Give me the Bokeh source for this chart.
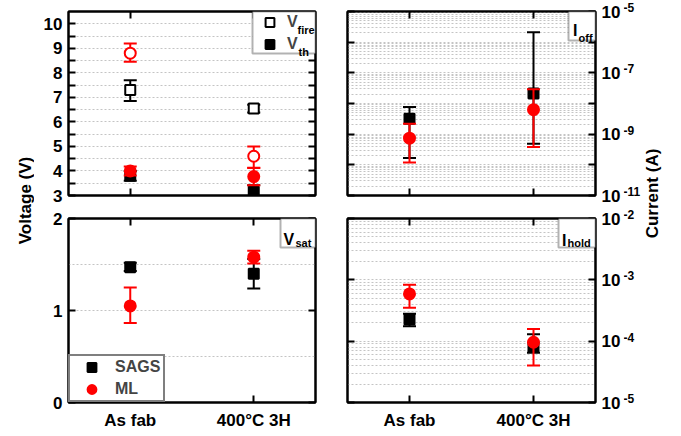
import math
from bokeh.plotting import figure
from bokeh.models import (FactorRange, Range1d, CategoricalAxis, LinearAxis, LogAxis, FixedTicker,
                          CustomJSTickFormatter, ColumnDataSource, Legend, LegendItem, Label,
                          BoxAnnotation)
from bokeh.layouts import row, column
from bokeh.embed import file_html
from bokeh.resources import INLINE

FONT = "Liberation Sans"

categories = ["As fab", "400°C 3H"]

# Top-left panel: firing / threshold voltages (V)
sags_vfire = [7.30, 6.55]
sags_vfire_hi = [7.70, 6.70]
sags_vfire_lo = [6.85, 6.38]
ml_vfire = [8.80, 4.60]
ml_vfire_hi = [9.20, 5.00]
ml_vfire_lo = [8.45, 4.13]
sags_vth = [3.80, 3.15]
sags_vth_hi = [4.00, 3.42]
sags_vth_lo = [3.60, 2.88]
ml_vth = [4.00, 3.77]
ml_vth_hi = [4.18, 4.12]
ml_vth_lo = [3.82, 3.42]

# Top-right panel: Ioff (A)
sags_ioff = [3.2e-9, 2.1e-8]
sags_ioff_hi = [7.7e-9, 2.1e-6]
sags_ioff_lo = [1.66e-10, 4.9e-10]
ml_ioff = [7.4e-10, 6.3e-9]
ml_ioff_hi = [2.2e-9, 2.9e-8]
ml_ioff_lo = [1.2e-10, 3.8e-10]

# Bottom-left panel: Vsat (V)
sags_vsat = [1.47, 1.40]
sags_vsat_hi = [1.52, 1.56]
sags_vsat_lo = [1.43, 1.24]
ml_vsat = [1.05, 1.58]
ml_vsat_hi = [1.25, 1.65]
ml_vsat_lo = [0.865, 1.51]

# Bottom-right panel: Ihold (A)
sags_ihold = [2.25e-4, 8.0e-5]
sags_ihold_hi = [2.8e-4, 1.3e-4]
sags_ihold_lo = [1.75e-4, 6.5e-5]
ml_ihold = [5.9e-4, 9.6e-5]
ml_ihold_hi = [8.3e-4, 1.58e-4]
ml_ihold_lo = [3.5e-4, 4.0e-5]

# Axis ticks / labels
v_top_ticks = [3, 4, 5, 6, 7, 8, 9, 10]
v_top_minor = [3.5, 4.5, 5.5, 6.5, 7.5, 8.5, 9.5]
v_top_grid = [3.5, 4, 4.5, 5, 5.5, 6, 6.5, 7, 7.5, 8, 8.5, 9, 9.5, 10]
v_bot_ticks = [0, 1, 2]
v_bot_grid = [0.5, 1, 1.5]
ioff_decades = [1e-11, 1e-10, 1e-9, 1e-8, 1e-7, 1e-6, 1e-5]
ioff_label_exps = [-11, -9, -7, -5]
ihold_decades = [1e-5, 1e-4, 1e-3, 1e-2]
ihold_label_exps = [-5, -4, -3, -2]

FH = 184
GRID_COLOR = "#c4c4c4"
TXT = "17px"

# layout (pixels)
LEFT_T = 34          # width of the left title strip
TLW, TRW = 247, 248  # frame widths
L_BL, L_BR = 34, 16  # borders of left panels
R_BL, R_BR = 16, 26  # borders of right panels
TOP_BT, TOP_BB = 11, 11
BOT_BT, BOT_BB = 12, 22
H = TOP_BT + FH + TOP_BB + BOT_BT + FH + BOT_BB
RIGHT_W = 48


def style_axis(ax, show):
    ax.axis_line_color = "black"
    ax.axis_line_width = 2
    ax.major_tick_line_color = "black"
    ax.major_tick_line_width = 2
    ax.major_tick_in = 7
    ax.major_tick_out = 0
    ax.minor_tick_line_color = "black"
    ax.minor_tick_line_width = 2
    ax.minor_tick_in = 7
    ax.minor_tick_out = 0
    ax.major_label_text_font = FONT
    ax.major_label_text_font_style = "bold"
    if show:
        ax.major_label_text_color = "black"
        ax.major_label_text_font_size = TXT
        ax.major_label_standoff = 6
    else:
        ax.major_label_text_color = None
        ax.major_label_text_alpha = 0
        ax.major_label_text_font_size = "1px"
        ax.major_label_standoff = 0


def panel(y0, y1, log, fw, bl, br, bt, bb, side):
    p = figure(x_range=FactorRange(*categories), y_range=Range1d(y0, y1),
               y_axis_type="log" if log else "linear",
               frame_width=fw, frame_height=FH,
               min_border_left=bl, min_border_right=br, min_border_top=bt, min_border_bottom=bb,
               x_axis_location="below", y_axis_location=side,
               toolbar_location=None, output_backend="svg",
               background_fill_color="white", border_fill_color="white")
    p.outline_line_color = "black"
    p.outline_line_width = 2
    p.xgrid.visible = False
    p.ygrid.grid_line_color = GRID_COLOR
    p.ygrid.grid_line_dash = "2 2"
    p.ygrid.grid_line_width = 1
    return p


def setup_x(p, show_labels):
    bx = p.xaxis[0]
    style_axis(bx, show_labels)
    if show_labels:
        bx.major_label_standoff = 8
    top = CategoricalAxis()
    style_axis(top, False)
    p.add_layout(top, "above")


def setup_y(p, ticker_main, ticker_other, formatter, other_side, log):
    ya = p.yaxis[0]
    ya.ticker = ticker_main
    if formatter is not None:
        ya.formatter = formatter
    style_axis(ya, True)
    other = LogAxis(ticker=ticker_other) if log else LinearAxis(ticker=ticker_other)
    style_axis(other, False)
    p.add_layout(other, other_side)


def errbars(p, hi, lo, color):
    src = ColumnDataSource(dict(x=categories, lo=lo, hi=hi))
    p.segment(x0="x", y0="lo", x1="x", y1="hi", source=src, line_color=color, line_width=2)
    p.scatter(x="x", y="hi", source=src, marker="dash", size=13, line_color=color, line_width=2)
    p.scatter(x="x", y="lo", source=src, marker="dash", size=13, line_color=color, line_width=2)


def points(p, y, color, marker, filled):
    size = 10 if marker == "square" else 11
    return p.scatter(x=categories, y=y, marker=marker, size=size, line_color=color, line_width=2,
                     fill_color=color if filled else "white")


def fx(px, fw):
    return px / fw * len(categories)


def fy(py, y0, y1, log):
    t = py / FH
    if log:
        a, b = math.log10(y0), math.log10(y1)
        return 10 ** (b - t * (b - a))
    return y1 - t * (y1 - y0)


def text_label(p, x, y, text, size, baseline="alphabetic", align="left", y_offset=0, angle=0.0):
    p.add_layout(Label(x=x, y=y, text=text, text_font=FONT, text_font_style="bold",
                       text_font_size=size, text_color="black", level="overlay",
                       text_align=align, text_baseline=baseline, y_offset=y_offset,
                       angle=angle))


def box(p, fw, y0, y1, log, bx):
    bx0, bx1, by0, by1 = bx
    p.add_layout(BoxAnnotation(left=fx(bx0, fw), right=fx(bx1, fw),
                               top=fy(by0, y0, y1, log), bottom=fy(by1, y0, y1, log),
                               fill_color="white", fill_alpha=1, line_color="black", line_width=2))


def tag(p, fw, y0, y1, log, bx, main, mpos, sub, spos):
    box(p, fw, y0, y1, log, bx)
    text_label(p, fx(mpos[0], fw), fy(mpos[1], y0, y1, log), main, "16px")
    text_label(p, fx(spos[0], fw), fy(spos[1], y0, y1, log), sub, "11px")


def log_formatter(exps):
    return CustomJSTickFormatter(args=dict(exps=exps), code="""
const e = Math.round(Math.log10(tick));
return exps.indexOf(e) >= 0 ? "10" : "";
""")


# ---------------- Top-left: voltages ----------------
tl = panel(3, 10.5, False, TLW, L_BL, L_BR, TOP_BT, TOP_BB, "left")
setup_x(tl, False)
setup_y(tl, FixedTicker(ticks=v_top_ticks, minor_ticks=v_top_minor),
        FixedTicker(ticks=v_top_ticks, minor_ticks=v_top_minor), None, "right", False)
tl.ygrid.ticker = FixedTicker(ticks=v_top_grid)
errbars(tl, sags_vfire_hi, sags_vfire_lo, "black")
errbars(tl, sags_vth_hi, sags_vth_lo, "black")
r_sfire = points(tl, sags_vfire, "black", "square", False)
r_sth = points(tl, sags_vth, "black", "square", True)
errbars(tl, ml_vfire_hi, ml_vfire_lo, "red")
errbars(tl, ml_vth_hi, ml_vth_lo, "red")
points(tl, ml_vfire, "red", "circle", False)
points(tl, ml_vth, "red", "circle", True)
box(tl, TLW, 3, 10.5, False, (184, 247, 0, 42))
leg_tl = Legend(items=[LegendItem(label="V", renderers=[r_sfire]),
                       LegendItem(label="V", renderers=[r_sth])],
                location="top_right", margin=0, padding=0, spacing=0,
                glyph_width=35, glyph_height=22, label_height=21, label_width=28,
                label_standoff=0, border_line_color=None,
                background_fill_alpha=0,
                label_text_font=FONT, label_text_font_style="bold", label_text_font_size="16px")
tl.add_layout(leg_tl)
text_label(tl, fx(229, TLW), fy(18.5, 3, 10.5, False), "fire", "11px")
text_label(tl, fx(230, TLW), fy(40, 3, 10.5, False), "th", "11px")

# ---------------- Top-right: Ioff ----------------
tr = panel(1e-11, 1e-5, True, TRW, R_BL, R_BR, TOP_BT, TOP_BB, "right")
setup_x(tr, False)
setup_y(tr, FixedTicker(ticks=ioff_decades, minor_ticks=[]),
        FixedTicker(ticks=ioff_decades, minor_ticks=[]), log_formatter(ioff_label_exps), "left", True)
tr.ygrid.ticker = FixedTicker(ticks=ioff_decades,
                              minor_ticks=[m * d for d in ioff_decades[:-1] for m in range(2, 10)])
tr.ygrid.minor_grid_line_color = GRID_COLOR
tr.ygrid.minor_grid_line_dash = "2 2"
errbars(tr, sags_ioff_hi, sags_ioff_lo, "black")
points(tr, sags_ioff, "black", "square", True)
errbars(tr, ml_ioff_hi, ml_ioff_lo, "red")
points(tr, ml_ioff, "red", "circle", True)
tag(tr, TRW, 1e-11, 1e-5, True, (221, 248, 0, 29), "I", (225.5, 19), "off", (231, 26))

# ---------------- Bottom-left: Vsat ----------------
bl = panel(0, 2, False, TLW, L_BL, L_BR, BOT_BT, BOT_BB, "left")
setup_x(bl, True)
setup_y(bl, FixedTicker(ticks=v_bot_ticks, minor_ticks=[]),
        FixedTicker(ticks=v_bot_ticks, minor_ticks=[]), None, "right", False)
bl.ygrid.ticker = FixedTicker(ticks=v_bot_grid)
errbars(bl, sags_vsat_hi, sags_vsat_lo, "black")
r_sags = points(bl, sags_vsat, "black", "square", True)
errbars(bl, ml_vsat_hi, ml_vsat_lo, "red")
r_ml = points(bl, ml_vsat, "red", "circle", True)
leg_bl = Legend(items=[LegendItem(label="SAGS", renderers=[r_sags]),
                       LegendItem(label="ML", renderers=[r_ml])],
                location="bottom_left", margin=0, padding=0, spacing=0,
                glyph_width=43, glyph_height=22, label_height=22, label_width=48,
                label_standoff=2, border_line_color="black", border_line_width=2,
                background_fill_color="white", background_fill_alpha=1,
                label_text_font=FONT, label_text_font_style="bold", label_text_font_size="16px")
bl.add_layout(leg_bl)
tag(bl, TLW, 0, 2, False, (212, 247, 0, 29), "V", (215, 20.5), "sat", (227, 24))

# ---------------- Bottom-right: Ihold ----------------
br = panel(1e-5, 1e-2, True, TRW, R_BL, R_BR, BOT_BT, BOT_BB, "right")
setup_x(br, True)
setup_y(br, FixedTicker(ticks=ihold_decades, minor_ticks=[]),
        FixedTicker(ticks=ihold_decades, minor_ticks=[]), log_formatter(ihold_label_exps), "left", True)
br.ygrid.ticker = FixedTicker(ticks=ihold_decades,
                              minor_ticks=[m * d for d in ihold_decades[:-1] for m in range(2, 10)])
br.ygrid.minor_grid_line_color = GRID_COLOR
br.ygrid.minor_grid_line_dash = "2 2"
errbars(br, sags_ihold_hi, sags_ihold_lo, "black")
points(br, sags_ihold, "black", "square", True)
errbars(br, ml_ihold_hi, ml_ihold_lo, "red")
points(br, ml_ihold, "red", "circle", True)
tag(br, TRW, 1e-5, 1e-2, True, (211, 248, 0, 29), "I", (214.5, 21.5), "hold", (220, 24))


# ---------------- Shared axis titles and exponent strip ----------------
def strip(w):
    f = figure(width=w, height=H, x_range=Range1d(0, w), y_range=Range1d(0, H),
               min_border=0, toolbar_location=None, output_backend="svg",
               x_axis_location=None, y_axis_location=None,
               background_fill_color="white", border_fill_color="white")
    f.outline_line_color = None
    f.grid.visible = False
    return f


left_title = strip(LEFT_T)
text_label(left_title, 25, H - 200, "Voltage (V)", TXT, baseline="middle", align="center",
           angle=math.pi / 2)

right_title = strip(RIGHT_W)
text_label(right_title, 29, H - 193, "Current (A)", TXT, baseline="middle", align="center",
           angle=math.pi / 2)


def strip_exponents(f, frame_top, decades, exps):
    # superscript exponents that follow the "10" tick labels of a log panel
    lo, hi = math.log10(decades[0]), math.log10(decades[-1])
    for e in exps:
        py = frame_top + (hi - e) / (hi - lo) * FH
        text_label(f, 0, H - py, "-%d" % abs(e), "12px", baseline="middle", y_offset=4)


strip_exponents(right_title, TOP_BT, ioff_decades, ioff_label_exps)
strip_exponents(right_title, TOP_BT + FH + TOP_BB + BOT_BT, ihold_decades, ihold_label_exps)

layout = row(left_title, column(row(tl, tr), row(bl, br)), right_title)

with open("out.html", "w") as fh:
    fh.write(file_html(layout, INLINE))
